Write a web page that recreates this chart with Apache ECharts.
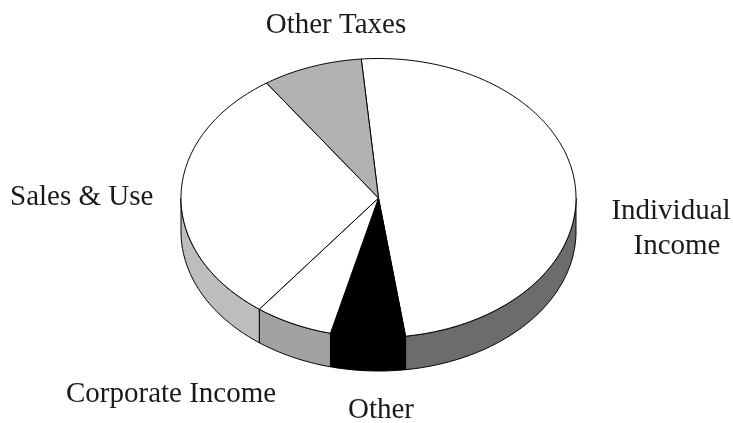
<!DOCTYPE html>
<html><head><meta charset="utf-8">
<style>html,body{margin:0;padding:0;background:#fff}#c{width:733px;height:423px}</style>
<script src="https://cdn.jsdelivr.net/npm/echarts@6/dist/echarts.min.js"></script>
</head><body><div id="c"></div>
<script>
const categories = ['Individual Income','Other','Corporate Income','Sales & Use','Other Taxes'];
const shares = [49.2, 6.1, 6.4, 30.1, 8.2];
const topColors = ['#ffffff','#000000','#ffffff','#ffffff','#b2b2b2'];
const sideColors = ['#6c6c6c','#000000','#a2a2a2','#bdbdbd','#8a8a8a'];
const labelTexts = ['Other Taxes','Sales & Use','Individual','Income','Corporate Income','Other'];

const cx=378.5, cy=198, rx=197.5, ry=139.5, depth=33.5, startDeg=-5;
const total = shares.reduce((a,b)=>a+b,0);
const rad = d=>d*Math.PI/180;
const pt = (t,dy)=>[cx+rx*Math.sin(rad(t)), cy-ry*Math.cos(rad(t))+(dy||0)];
function arc(a,b,dy){const n=Math.max(2,Math.ceil(Math.abs(b-a)));const o=[];for(let i=0;i<=n;i++)o.push(pt(a+(b-a)*i/n,dy));return o;}
const lineStyle={stroke:'#000',lineWidth:1,lineJoin:'round'};

function renderItem(params, api){
  const before=api.value(1), share=api.value(2);
  const a=startDeg+before/total*360, b=a+share/total*360;
  const kids=[];
  const sa=Math.max(a,90), sb=Math.min(b,270);
  if(sb>sa){
    kids.push({type:'polygon',z2:1,shape:{points:arc(sa,sb,0).concat(arc(sb,sa,depth))},
      style:Object.assign({fill:sideColors[params.dataIndex]},lineStyle)});
  }
  kids.push({type:'polygon',z2:2,shape:{points:[[cx,cy]].concat(arc(a,b,0))},
    style:Object.assign({fill:topColors[params.dataIndex]},lineStyle)});
  return {type:'group',children:kids};
}
let acc=0;
const seriesData=categories.map((c,i)=>{const d=[i,acc,shares[i]];acc+=shares[i];return {name:c,value:d};});
const font={fontFamily:'"Liberation Serif","Times New Roman",serif',fontSize:29,fill:'#1a1a1a'};
const txt=(text,x,y,align)=>({type:'text',x,y,style:Object.assign({text,align,verticalAlign:'middle'},font)});
const chart=echarts.init(document.getElementById('c'),null,{renderer:'canvas'});
chart.setOption({
  animation:false,backgroundColor:'#fff',
  series:[{type:'custom',coordinateSystem:'none',renderItem,data:seriesData,silent:true}],
  graphic:[
    txt(labelTexts[0],336,25,'center'),
    txt(labelTexts[1],10,197,'left'),
    txt(labelTexts[2],671,211,'center'),
    txt(labelTexts[3],677,246,'center'),
    txt(labelTexts[4],66,394,'left'),
    txt(labelTexts[5],381,410,'center')
  ]
});
</script></body></html>
